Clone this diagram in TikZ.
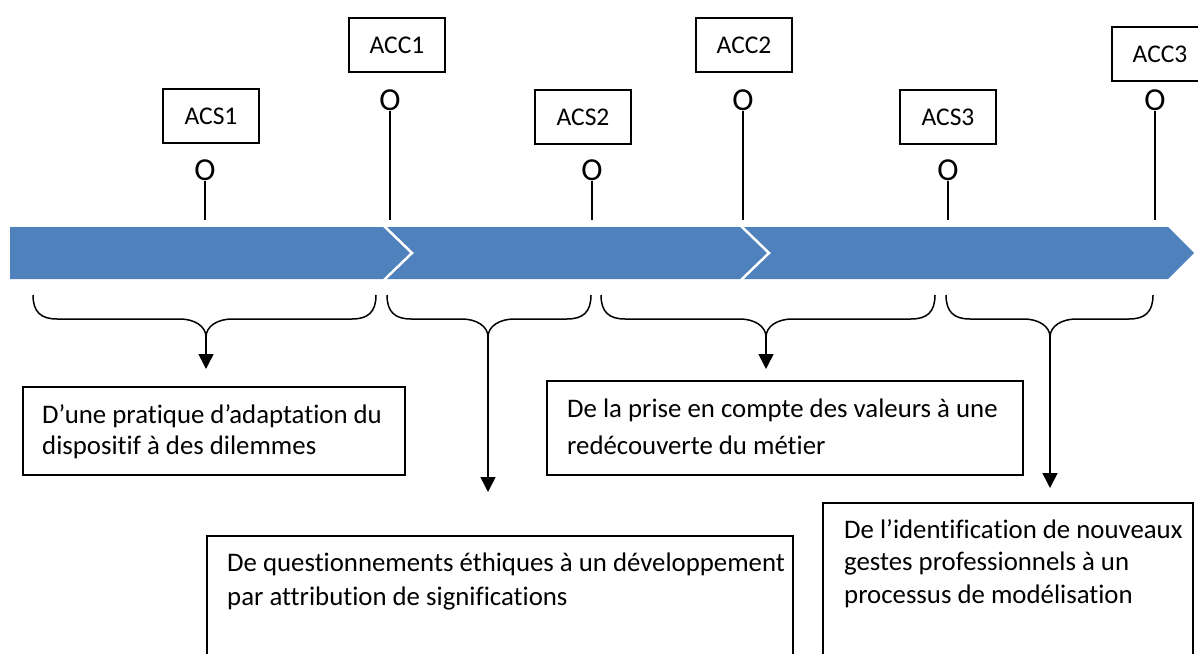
\documentclass[tikz,border=0pt]{standalone}
\usepackage{fontspec}
\setmainfont{Carlito}[Ligatures=NoCommon, RawFeature={-liga;-clig;-calt;-dlig}]
\usetikzlibrary{arrows.meta,calc}
\definecolor{bandblue}{RGB}{79,129,189}
\newcommand\mybrace[3]{% left, centre, right
  \draw[brace] (#1,295) .. controls (#1,312) and ({#1+8},319) .. ({#1+24},319)
    -- ({#2-26},319) .. controls ({#2-12},319) and (#2,326) .. (#2,337)
    .. controls (#2,326) and ({#2+12},319) .. ({#2+26},319)
    -- ({#3-24},319) .. controls ({#3-8},319) and (#3,312) .. (#3,295);}
\begin{document}
\begin{tikzpicture}[x=1pt,y=-1pt,
  lbl/.style={draw, line width=1.3pt, minimum width=96pt, minimum height=54pt, inner sep=0pt, font=\fontsize{25.5}{28}\selectfont},
  ringo/.style={inner sep=0pt, font=\fontsize{32}{32}\selectfont},
  stem/.style={line width=1.3pt},
  brace/.style={line width=1.5pt},
  arr/.style={line width=1.5pt, -{Triangle[width=15pt,length=15pt]}},
  tbox/.style={draw, line width=1.6pt, inner sep=0pt, anchor=north west},
  btext/.style={anchor=north west, align=left, inner sep=0pt}
]
\useasboundingbox (0,0) rectangle (1198,653);
\clip (0,0) rectangle (1198,653);

% timeline band
\fill[bandblue] (10,227) -- (1168,227) -- (1194,253) -- (1168,279) -- (10,279) -- cycle;
\draw[white, line width=2.5pt] (384,226) -- (412,253) -- (384,280);
\draw[white, line width=2.5pt] (741,226) -- (769,253) -- (741,280);

% top labels
\node[lbl] (acs1) at (211,116) {ACS1};
\node[lbl] (acc1) at (397,45) {ACC1};
\node[lbl] (acs2) at (583,117) {ACS2};
\node[lbl] (acc2) at (744,45) {ACC2};
\node[lbl] (acs3) at (948,117) {ACS3};
\node[lbl] (acc3) at (1160,54) {ACC3};

% markers and stems
\node[ringo] (o1) at (205,170) {O};
\node[ringo] (o2) at (390,100) {O};
\node[ringo] (o3) at (592,170) {O};
\node[ringo] (o4) at (743,100) {O};
\node[ringo] (o5) at (948,170) {O};
\node[ringo] (o6) at (1155,100) {O};
\coordinate (s1) at (205,220);
\coordinate (s2) at (390,220);
\coordinate (s3) at (592,220);
\coordinate (s4) at (743,220);
\coordinate (s5) at (948,220);
\coordinate (s6) at (1155,220);
\foreach \i in {1,...,6} {\draw[stem] (o\i.south) -- (s\i);}

% braces
\mybrace{33}{206}{376}
\mybrace{387}{488}{591}
\mybrace{601}{766}{935}
\mybrace{946}{1050}{1153}

\coordinate (c1) at (206,337); \coordinate (e1) at (206,369);
\coordinate (c2) at (488,337); \coordinate (e2) at (488,492);
\coordinate (c3) at (766,337); \coordinate (e3) at (766,369);
\coordinate (c4) at (1050,337); \coordinate (e4) at (1050,488);
\foreach \i in {1,...,4} {\draw[arr] (c\i) -- (e\i);}

% boxes
\node[tbox, minimum width=382pt, minimum height=88pt] (b1) at (22,386) {};
\node[tbox, minimum width=586pt, minimum height=140pt] (b2) at (206,535) {};
\node[tbox, minimum width=476pt, minimum height=94pt] (b3) at (546,380) {};
\node[tbox, minimum width=370pt, minimum height=170pt] (b4) at (822,502) {};

\node[btext, font=\fontsize{26.8}{31}\selectfont] (t1) at (42,404)
  {D’une pratique d’adaptation du\\dispositif à des dilemmes};
\node[btext, font=\fontsize{26.8}{34}\selectfont] (t2) at (227,553)
  {De questionnements éthiques à un développement\\par attribution de significations};
\node[btext, font=\fontsize{26.8}{37}\selectfont] (t3) at (567,399)
  {De la prise en compte des valeurs à une\\redécouverte du métier};
\node[btext, font=\fontsize{26.8}{32.5}\selectfont] (t4) at (844,519)
  {De l’identification de nouveaux\\gestes professionnels à un\\processus de modélisation};
\end{tikzpicture}
\end{document}
